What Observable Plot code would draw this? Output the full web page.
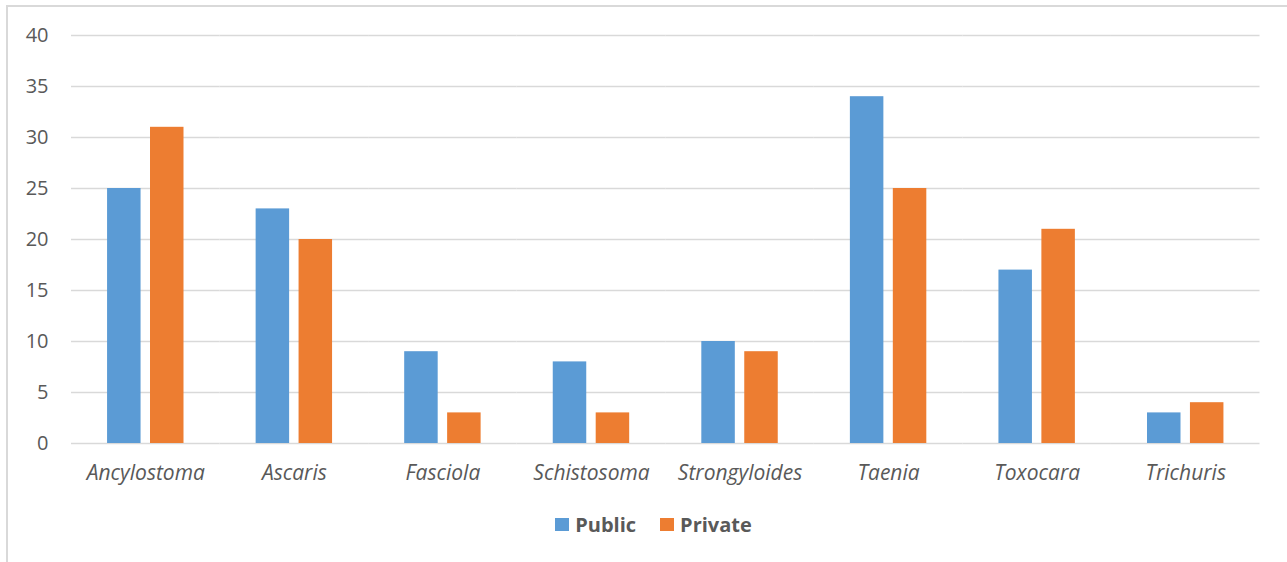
<!DOCTYPE html>
<html>
<head>
<meta charset="utf-8">
<script src="https://cdn.jsdelivr.net/npm/d3@7"></script>
<script src="https://cdn.jsdelivr.net/npm/@observablehq/plot@0.6"></script>
<style>
  body { margin: 0; background: #fff; font-family: "Open Sans", sans-serif; }
  #frame { position: absolute; left: 6px; top: 5px; width: 1300px; height: 620px; border: 2px solid #d9d9d9; box-sizing: border-box; }
  #chart { position: absolute; left: 0; top: 0; }
  #legend { position: absolute; top: 511px; left: 0; width: 1287px; display: flex; justify-content: center; gap: 24px; font-size: 20px; font-weight: bold; color: #595959; padding-left: 20px; box-sizing: border-box; }
  .item { display: flex; align-items: center; gap: 6px; }
  .sw { width: 14px; height: 13px; display: inline-block; }
</style>
</head>
<body>
<div id="frame"></div>
<div id="chart"></div>
<div id="legend"></div>
<script>
const categories = ["Ancylostoma", "Ascaris", "Fasciola", "Schistosoma", "Strongyloides", "Taenia", "Toxocara", "Trichuris"];
const seriesNames = ["Public", "Private"];
const publicValues = [25, 23, 9, 8, 10, 34, 17, 3];
const privateValues = [31, 20, 3, 3, 9, 25, 21, 4];
const yTicks = [0, 5, 10, 15, 20, 25, 30, 35, 40];
const seriesColors = ["#5B9BD5", "#ED7D31"];

const data = categories.flatMap((c, i) => [
  {cat: c, series: "Public", value: publicValues[i]},
  {cat: c, series: "Private", value: privateValues[i]}
]);

const chart = Plot.plot({
  width: 1287,
  height: 500,
  marginLeft: 71,
  marginRight: 27.5,
  marginTop: 35,
  marginBottom: 57,
  style: {fontFamily: "Open Sans, sans-serif", fontSize: "20px", color: "#595959", background: "transparent"},
  fx: {domain: categories, padding: 0, round: false, label: null, axis: null},
  x: {domain: seriesNames, paddingInner: 0.22, paddingOuter: 0.84, round: false, axis: null},
  y: {domain: [0, 40], label: null, axis: null},
  color: {domain: seriesNames, range: seriesColors},
  marks: [
    Plot.ruleY(yTicks, {stroke: "#d9d9d9", strokeWidth: 1.5}),
    Plot.barY(data, {fx: "cat", x: "series", y: "value", fill: "series"}),
    Plot.axisY(yTicks, {tickSize: 0, tickPadding: 23, label: null, fontSize: 20, fill: "#595959"}),
    Plot.axisFx({anchor: "bottom", tickSize: 0, tickPadding: 22, label: null, fontStyle: "italic", fontSize: 21, fill: "#595959"})
  ]
});
document.getElementById("chart").appendChild(chart);

const legend = document.getElementById("legend");
seriesNames.forEach((s, i) => {
  const item = document.createElement("div");
  item.className = "item";
  const sw = document.createElement("span");
  sw.className = "sw";
  sw.style.background = seriesColors[i];
  const label = document.createElement("span");
  label.textContent = s;
  item.appendChild(sw);
  item.appendChild(label);
  legend.appendChild(item);
});
</script>
</body>
</html>
